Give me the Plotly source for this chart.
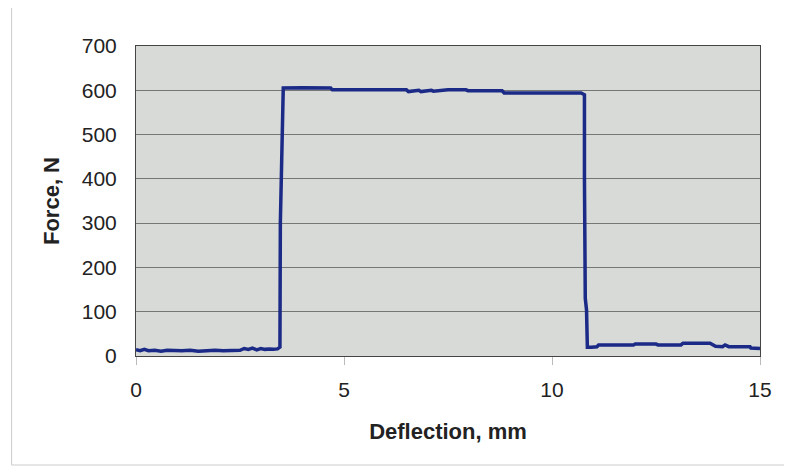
import plotly.graph_objects as go

# Deflection (mm) and Force (N)
deflection_mm = [
    0.00, 0.10, 0.20, 0.30, 0.45, 0.60, 0.75, 0.90, 1.10, 1.30, 1.50, 1.70,
    1.90, 2.10, 2.30, 2.50, 2.60, 2.70, 2.80, 2.90, 3.00, 3.10, 3.20, 3.30,
    3.40, 3.46, 3.47, 3.49, 3.52, 3.54, 4.00, 4.50, 4.68, 4.72, 5.50, 6.30,
    6.50, 6.55, 6.80, 6.85, 7.10, 7.15, 7.50, 7.93, 7.98, 8.80, 8.85, 10.70,
    10.78, 10.78, 10.80, 10.83, 10.85, 10.95, 11.08, 11.12, 11.96, 12.00, 12.50,
    12.55, 13.10, 13.15, 13.80, 13.93, 14.00, 14.10, 14.16, 14.25, 14.76, 14.78,
    15.00,
]
force_n = [
    14, 12, 15, 12, 13, 11, 13, 12, 12, 13, 11, 12,
    13, 12, 12, 13, 17, 15, 18, 14, 17, 15, 16, 15,
    16, 20, 300, 420, 560, 605, 606, 606, 605, 601, 601, 600,
    601, 597, 600, 597, 600, 598, 601, 601, 599, 599, 594, 594,
    590, 400, 130, 104, 20, 20, 21, 25, 25, 27, 27,
    25, 25, 29, 29, 22, 21, 21, 25, 21, 21, 18,
    17,
]

x_ticks = [0, 5, 10, 15]
y_ticks = [0, 100, 200, 300, 400, 500, 600, 700]

fig = go.Figure()
fig.add_trace(go.Scatter(
    x=deflection_mm, y=force_n, mode="lines",
    line=dict(color="#1b2a86", width=3.5),
    showlegend=False, hoverinfo="skip",
))

FONT = "Liberation Sans, Arial, sans-serif"

# page has an 8px body margin; figure sized so it fits the 792x475 window
W, H = 776, 459
L, T = 128, 38
PW, PH = 632, 310

fig.update_layout(
    width=W, height=H,
    margin=dict(l=L, r=W - L - PW, t=T, b=H - T - PH),
    paper_bgcolor="white",
    plot_bgcolor="#d7dad7",
    font=dict(family=FONT, color="#222222", size=21),
    xaxis=dict(
        range=[0, 15], tickvals=x_ticks, ticktext=[str(v) for v in x_ticks],
        showgrid=False, zeroline=False,
        showline=True, linecolor="#444444", linewidth=1, mirror=True,
        ticks="outside", ticklen=8, tickcolor="#bbbbbb", tickwidth=1,
        ticklabelstandoff=7,
        tickfont=dict(size=21, family=FONT, color="#222222"),
        title=dict(text="<b>Deflection, mm</b>", standoff=23,
                   font=dict(size=22, family=FONT, color="#222222")),
    ),
    yaxis=dict(
        range=[0, 700], tickvals=y_ticks, ticktext=[str(v) for v in y_ticks],
        showgrid=True, gridcolor="#767676", gridwidth=1,
        zeroline=False,
        showline=True, linecolor="#444444", linewidth=1, mirror=True,
        ticks="", ticklabelstandoff=14,
        tickfont=dict(size=21, family=FONT, color="#222222"),
        title=dict(text="<b>Force, N</b>", standoff=16,
                   font=dict(size=22, family=FONT, color="#222222")),
    ),
    shapes=[dict(
        type="rect", xref="paper", yref="paper",
        x0=(2 - L) / PW, x1=(W + 10 - L) / PW,
        y0=(T + PH - (465 - 8)) / PH, y1=(T + PH + 10) / PH,
        line=dict(color="#cccccc", width=1), fillcolor="rgba(0,0,0,0)",
        layer="below",
    )],
)

fig.write_html("out.html")
